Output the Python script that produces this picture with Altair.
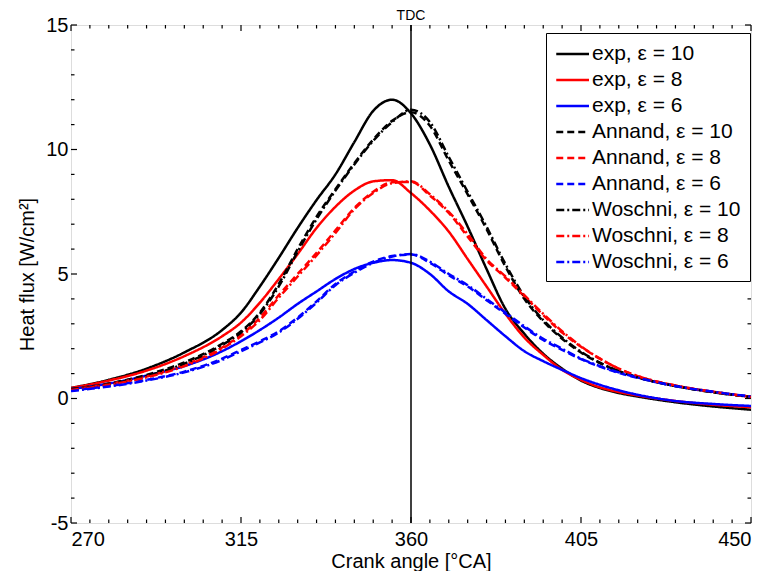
import altair as alt
import pandas as pd

angles = [270, 280, 290, 300, 310, 315, 320, 325, 330, 335, 340, 345, 350, 355, 360,
          365, 370, 375, 380, 385, 390, 395, 400, 405, 410, 415, 420, 430, 440, 450]

exp10 = [0.42, 0.75, 1.2, 1.85, 2.75, 3.45, 4.5, 5.65, 6.85, 7.97, 9.0, 10.3, 11.55, 12.0, 11.45,
         10.2, 8.5, 6.9, 5.2, 3.6, 2.6, 1.8, 1.2, 0.72, 0.42, 0.22, 0.08, -0.15, -0.32, -0.45]
exp8 = [0.42, 0.72, 1.12, 1.7, 2.5, 3.05, 3.85, 4.8, 5.8, 6.85, 7.7, 8.35, 8.72, 8.77, 8.25,
        7.55, 6.7, 5.6, 4.5, 3.4, 2.45, 1.75, 1.15, 0.75, 0.45, 0.26, 0.12, -0.1, -0.25, -0.35]
exp6 = [0.38, 0.6, 0.92, 1.3, 1.9, 2.3, 2.75, 3.25, 3.8, 4.3, 4.8, 5.2, 5.45, 5.56, 5.45,
        5.0, 4.3, 3.8, 3.15, 2.5, 1.9, 1.5, 1.15, 0.82, 0.55, 0.33, 0.15, -0.1, -0.22, -0.3]
annand10 = [0.38, 0.6, 0.95, 1.45, 2.2, 2.7, 3.45, 4.6, 6.0, 7.3, 8.4, 9.45, 10.4, 11.15, 11.5,
            10.95, 9.55, 8.2, 6.8, 5.3, 4.0, 3.1, 2.4, 1.85, 1.42, 1.1, 0.85, 0.5, 0.25, 0.07]
annand8 = [0.36, 0.58, 0.88, 1.35, 2.05, 2.55, 3.25, 4.15, 5.0, 5.85, 6.75, 7.65, 8.3, 8.68, 8.7,
           8.15, 7.45, 6.5, 5.55, 4.85, 4.1, 3.35, 2.65, 2.08, 1.6, 1.2, 0.9, 0.52, 0.27, 0.07]
annand6 = [0.32, 0.5, 0.75, 1.08, 1.6, 1.95, 2.3, 2.7, 3.25, 3.9, 4.6, 5.1, 5.5, 5.72, 5.78,
           5.45, 4.95, 4.5, 3.95, 3.4, 2.85, 2.35, 1.95, 1.58, 1.28, 1.03, 0.83, 0.5, 0.27, 0.07]
woschni10 = [0.36, 0.57, 0.9, 1.4, 2.15, 2.65, 3.4, 4.5, 5.9, 7.2, 8.35, 9.4, 10.35, 11.1, 11.6,
             11.1, 9.7, 8.3, 6.9, 5.4, 4.1, 3.15, 2.45, 1.88, 1.44, 1.1, 0.85, 0.5, 0.25, 0.06]
woschni8 = [0.34, 0.55, 0.85, 1.3, 2.0, 2.5, 3.15, 4.05, 4.9, 5.75, 6.65, 7.6, 8.25, 8.65, 8.72,
            8.2, 7.5, 6.6, 5.6, 4.9, 4.15, 3.4, 2.7, 2.1, 1.6, 1.2, 0.9, 0.52, 0.27, 0.06]
woschni6 = [0.3, 0.48, 0.72, 1.05, 1.55, 1.9, 2.25, 2.65, 3.2, 3.85, 4.55, 5.05, 5.45, 5.7, 5.8,
            5.5, 5.0, 4.55, 4.0, 3.45, 2.9, 2.4, 2.0, 1.6, 1.3, 1.05, 0.84, 0.5, 0.27, 0.08]

series_names = ["exp, ε = 10", "exp, ε = 8", "exp, ε = 6",
                "Annand, ε = 10", "Annand, ε = 8", "Annand, ε = 6",
                "Woschni, ε = 10", "Woschni, ε = 8", "Woschni, ε = 6"]
series_values = [exp10, exp8, exp6, annand10, annand8, annand6, woschni10, woschni8, woschni6]
series_colors = ["#000000", "#ff0000", "#0000ff"] * 3
series_dashes = [[1, 0]] * 3 + [[7, 4]] * 3 + [[8, 3, 2, 3]] * 3

x_major = [270, 315, 360, 405, 450]
x_minor = [v for v in range(270, 451, 5) if v not in x_major]
y_major = [-5, 0, 5, 10, 15]
y_minor = [v for v in range(-5, 16) if v not in y_major]

W, H = 680, 498
FONT = "Liberation Sans"

rows = []
for i, (name, vals) in enumerate(zip(series_names, series_values)):
    for a, v in zip(angles, vals):
        rows.append({"angle": a, "flux": v, "series": name, "order": i})
df = pd.DataFrame(rows)

xscale = alt.Scale(domain=[270, 450], nice=False, zero=False)
yscale = alt.Scale(domain=[-5, 15], nice=False, zero=False)

lines = alt.Chart(df).mark_line(strokeWidth=2.5, interpolate="monotone", clip=True).encode(
    x=alt.X("angle:Q", scale=xscale,
            axis=alt.Axis(values=x_major, ticks=False, domain=False, grid=False,
                          labelFontSize=20, labelFont=FONT, labelColor="black",
                          labelPadding=6, title="Crank angle [°CA]", titleFontSize=20,
                          titleFont=FONT, titleFontWeight="normal", titleColor="black",
                          titlePadding=2)),
    y=alt.Y("flux:Q", scale=yscale,
            axis=alt.Axis(values=y_major, ticks=False, domain=False, grid=False,
                          labelFontSize=20, labelFont=FONT, labelColor="black",
                          labelPadding=3, labelExpr="'' + datum.value",
                          title="Heat flux [W/cm²]", titleFontSize=20, titleFont=FONT,
                          titleFontWeight="normal", titleColor="black", titlePadding=8)),
    color=alt.Color("series:N", sort=series_names,
                    scale=alt.Scale(domain=series_names, range=series_colors),
                    legend=alt.Legend(title=None, orient="none", legendX=475, legendY=8,
                                      symbolType="M-1,0H2.05", symbolSize=462,
                                      symbolStrokeWidth=2.5, labelFontSize=21,
                                      labelFont=FONT, labelColor="black", labelLimit=400,
                                      labelOffset=13, rowPadding=4, padding=9,
                                      strokeColor="black", fillColor="white")),
    strokeDash=alt.StrokeDash("series:N", sort=series_names,
                              scale=alt.Scale(domain=series_names, range=series_dashes),
                              legend=alt.Legend(title=None, orient="none", legendX=475,
                                                legendY=8)),
    order="order:Q",
    detail="series:N",
)

tdc_df = pd.DataFrame({"angle": [360], "label": ["TDC"]})
tdc_line = alt.Chart(tdc_df).mark_rule(color="black", strokeWidth=1.5).encode(
    x=alt.X("angle:Q", scale=xscale))
tdc_text = alt.Chart(tdc_df).mark_text(fontSize=14, font=FONT, color="black",
                                       baseline="bottom").encode(
    x=alt.X("angle:Q", scale=xscale), y=alt.value(-2), text="label:N")

def xticks(vals, L):
    d = pd.DataFrame({"angle": vals})
    b = alt.Chart(d).mark_rule(color="black", strokeWidth=1.2).encode(
        x=alt.X("angle:Q", scale=xscale), y=alt.value(H), y2=alt.value(H - L))
    t = alt.Chart(d).mark_rule(color="black", strokeWidth=1.2).encode(
        x=alt.X("angle:Q", scale=xscale), y=alt.value(0), y2=alt.value(L))
    return b + t

def yticks(vals, L):
    d = pd.DataFrame({"flux": vals})
    l = alt.Chart(d).mark_rule(color="black", strokeWidth=1.2).encode(
        y=alt.Y("flux:Q", scale=yscale), x=alt.value(0), x2=alt.value(L))
    r = alt.Chart(d).mark_rule(color="black", strokeWidth=1.2).encode(
        y=alt.Y("flux:Q", scale=yscale), x=alt.value(W), x2=alt.value(W - L))
    return l + r

chart = alt.layer(
    xticks(x_major, 6), xticks(x_minor, 3.5), yticks(y_major, 6), yticks(y_minor, 3.5),
    lines, tdc_line, tdc_text
).properties(
    width=W, height=H,
    autosize=alt.AutoSizeParams(type="none"),
    padding={"left": 63, "top": 17, "right": 13, "bottom": 48},
).configure_view(stroke="black", strokeWidth=1.5).configure(background="white")

chart.save("out.html", embed_options={"renderer": "svg", "actions": False})
